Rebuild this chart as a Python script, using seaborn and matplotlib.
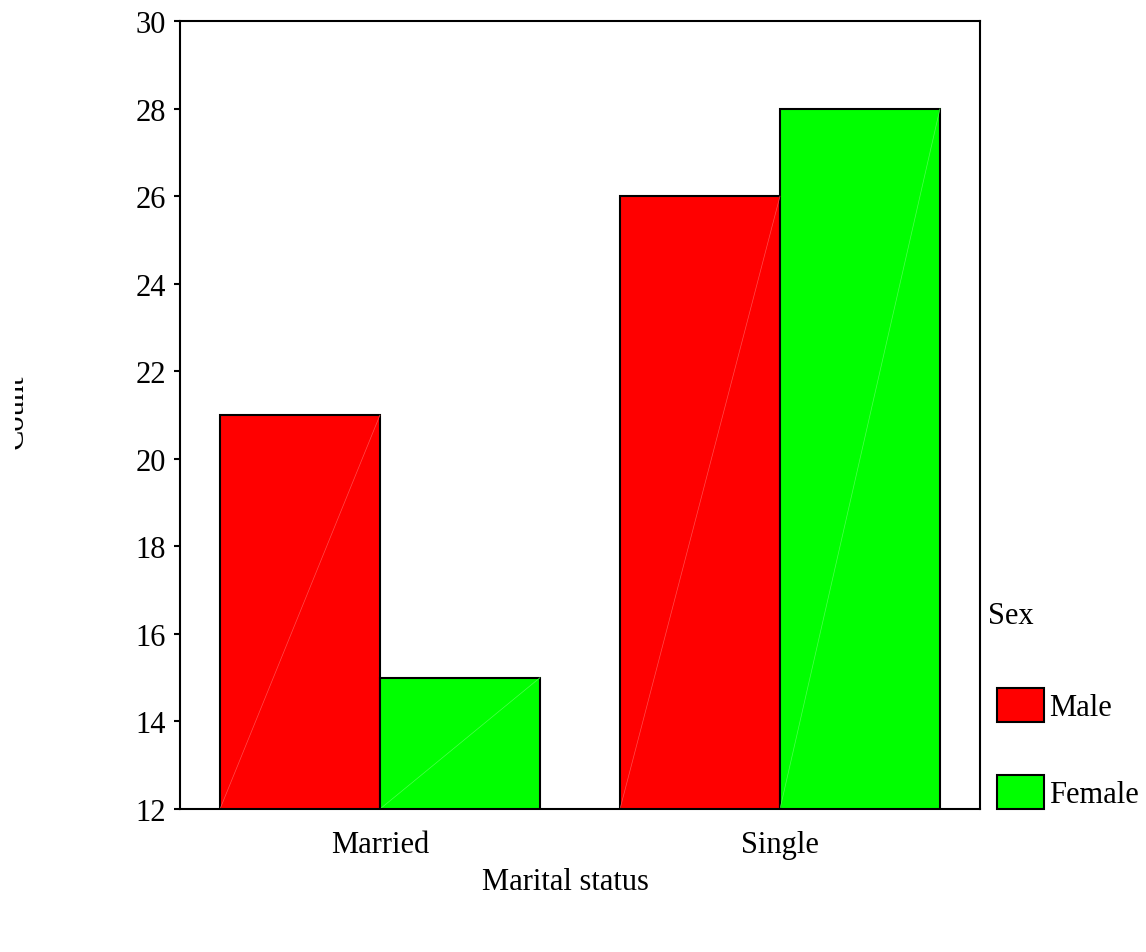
import matplotlib
matplotlib.use("Agg")
import matplotlib.pyplot as plt
import seaborn as sns
import pandas as pd
from matplotlib.patches import Patch
from matplotlib.transforms import Bbox, TransformedBbox

marital = ["Married", "Single"]
sexes = ["Male", "Female"]
male_counts = [21, 26]
female_counts = [15, 28]
colors = {"Male": "#FF0000", "Female": "#00FF00"}
yticks = [12, 14, 16, 18, 20, 22, 24, 26, 28, 30]

df = pd.DataFrame({
    "Marital status": marital * 2,
    "Sex": ["Male"] * len(marital) + ["Female"] * len(marital),
    "Count": male_counts + female_counts,
})

sns.set_theme(style="white")
plt.rcParams["font.family"] = ["Liberation Serif", "DejaVu Serif"]
plt.rcParams["text.color"] = "black"
plt.rcParams["xtick.color"] = "black"
plt.rcParams["ytick.color"] = "black"
FS = 22

W, H = 1146, 953
fig = plt.figure(figsize=(W/100, H/100), dpi=100)
ax = fig.add_axes([180/W, 1-810/H, 800/W, (810-22)/H])

sns.barplot(data=df, x="Marital status", y="Count", hue="Sex", order=marital,
            hue_order=sexes, palette=colors, saturation=1, width=0.8,
            edgecolor="black", linewidth=1.5, ax=ax, legend=False)

# faint diagonal rendering streak inside each bar
for p in ax.patches:
    x0, y0 = p.get_x(), 12
    x1, y1 = p.get_x() + p.get_width(), p.get_height()
    fc = p.get_facecolor()
    light = tuple(min(1, c + 0.3) for c in fc[:3])
    ax.plot([x0, x1], [y0, y1], color=light, lw=0.5, zorder=p.get_zorder() + 0.1)

ax.set_ylim(12, 30)
ax.set_xlim(-0.5, 1.5)
ax.set_yticks(yticks)
ax.set_yticklabels([str(t) for t in yticks])
ax.tick_params(axis="y", length=4, width=1.5, pad=6, labelsize=FS, left=True)
ax.tick_params(axis="x", length=0, pad=15, labelsize=FS)
for s in ax.spines.values():
    s.set_visible(True)
    s.set_color("black")
    s.set_linewidth(1.5)
ax.set_xlabel("")
ax.set_ylabel("")

fig.text(565/W, 1-883/H, "Marital status", ha="center", va="center", fontsize=FS)
yl = fig.text(30/W, 1-412/H, "Count", ha="right", va="center", rotation=90, fontsize=FS)
yl.set_clip_on(True)
yl.set_clip_box(TransformedBbox(Bbox([[15/W, 0], [1, 1]]), fig.transFigure))

fig.text(988/W, 1-616/H, "Sex", ha="left", va="center", fontsize=FS)

handles = [Patch(facecolor=colors[s], edgecolor="black", linewidth=1.5, label=s) for s in sexes]
leg = fig.legend(handles=handles, loc="upper left",
                 bbox_to_anchor=(997/W, 1-689/H), frameon=False, fontsize=FS,
                 handlelength=1.55, handleheight=1.33,
                 labelspacing=1.73, handletextpad=0.15, borderpad=0, borderaxespad=0)

fig.savefig("out.png", dpi=100, facecolor="white")
